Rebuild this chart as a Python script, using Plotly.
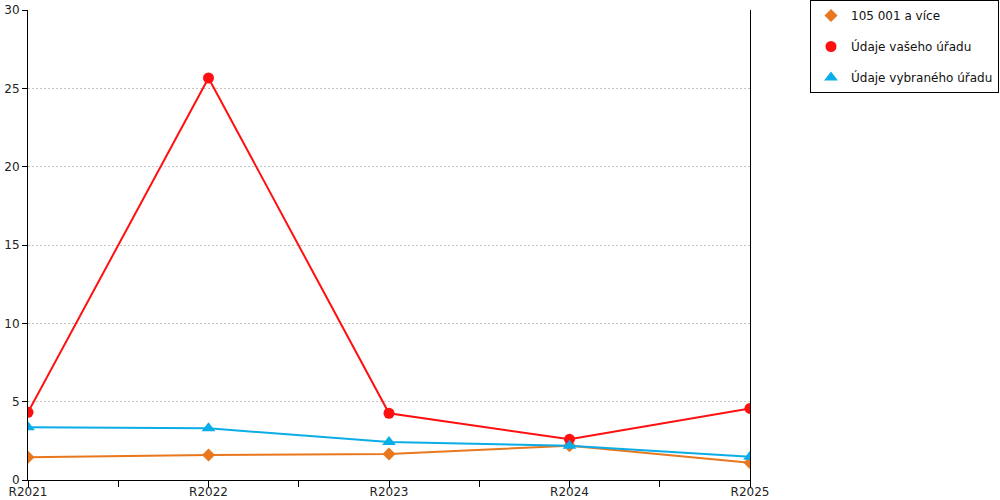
import plotly.graph_objects as go

years = ["R2021", "R2022", "R2023", "R2024", "R2025"]
y_ticks = [0, 5, 10, 15, 20, 25, 30]

band = [1.45, 1.60, 1.66, 2.19, 1.10]        # 105 001 a více
your_office = [4.32, 25.66, 4.26, 2.60, 4.57]  # Údaje vašeho úřadu
chosen_office = [3.36, 3.30, 2.43, 2.19, 1.49]  # Údaje vybraného úřadu

series = [
    ("105 001 a více", band, "#E8771E", "diamond", 10),
    ("Údaje vašeho úřadu", your_office, "#FF1010", "circle", 11),
    ("Údaje vybraného úřadu", chosen_office, "#0BADE8", "triangle-up", 12),
]

xpos = list(range(len(years)))

fig = go.Figure()
for i, (name, vals, color, symbol, size) in enumerate(series):
    # line + markers on the chart
    fig.add_trace(go.Scatter(
        x=xpos, y=vals, mode="lines+markers", name=name,
        line=dict(color=color, width=2),
        marker=dict(color=color, symbol=symbol, size=size),
        showlegend=False, hoverinfo="y",
    ))
    # legend entry shows only the marker
    fig.add_trace(go.Scatter(
        x=[None], y=[None], mode="markers", name=name,
        marker=dict(color=color, symbol=symbol, size=size),
        legendgroup=f"g{i}",
    ))

fig.update_layout(
    width=1000, height=500,
    margin=dict(l=28, r=250, t=10, b=20, autoexpand=False),
    paper_bgcolor="white", plot_bgcolor="white",
    font=dict(family="DejaVu Sans", size=12, color="#222"),
    legend=dict(
        xref="container", yref="container",
        x=0.999, y=1.0, xanchor="right", yanchor="top",
        bordercolor="black", borderwidth=1,
        font=dict(size=12, color="#111"),
        traceorder="grouped", tracegroupgap=12,
        itemwidth=30,
    ),
    xaxis=dict(
        range=[0, 4], tickvals=xpos, ticktext=years,
        showgrid=False, zeroline=False, automargin=False,
        showline=True, linecolor="black", linewidth=1,
        ticks="outside", ticklen=6, tickcolor="black",
        ticklabelstandoff=-5,
        minor=dict(dtick=0.5, ticks="outside", ticklen=6, tickcolor="black"),
        fixedrange=True,
    ),
    yaxis=dict(
        range=[0, 30], tickvals=y_ticks,
        showgrid=True, gridcolor="#c4c4c4", griddash="2px,2px", gridwidth=1,
        zeroline=False, automargin=False,
        showline=True, linecolor="black", linewidth=1, mirror=True,
        ticks="outside", ticklen=5, tickcolor="black",
        fixedrange=True,
    ),
)

# drop the browser's default body margin so the 1000x500 figure fills the window
fig.write_html(
    "out.html",
    config={"displayModeBar": False},
    post_script="document.body.style.margin='0';document.body.style.overflow='hidden';",
)
